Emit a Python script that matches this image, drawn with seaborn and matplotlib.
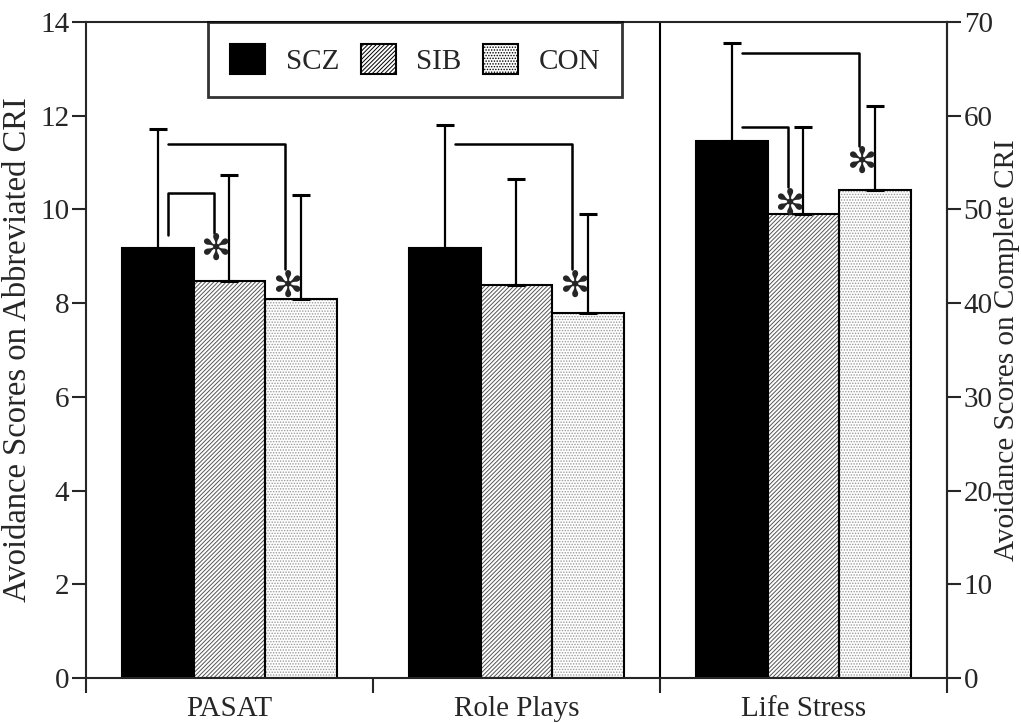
import matplotlib
matplotlib.use("Agg")
import matplotlib.pyplot as plt
from matplotlib.patches import Patch, Rectangle
import numpy as np
import pandas as pd
import seaborn as sns

measures = ["PASAT", "Role Plays", "Life Stress"]
groups = ["SCZ", "SIB", "CON"]

# group means per measure (Life Stress is scored on the complete CRI, right axis)
means_scz = [9.18, 9.18, 57.3]
means_sib = [8.47, 8.39, 49.5]
means_con = [8.09, 7.80, 52.1]
sd_scz = [2.53, 2.63, 10.5]
sd_sib = [2.26, 2.25, 9.3]
sd_con = [2.21, 2.11, 8.9]

# left axis 0-14, right axis 0-70
axis_scale = [1, 1, 5]

# significance brackets: measure, from group, to group, top, left leg end, right leg end
brackets = [
    ("PASAT", "SCZ", "SIB", 10.36, 9.45, 9.50),
    ("PASAT", "SCZ", "CON", 11.40, None, 8.73),
    ("Role Plays", "SCZ", "CON", 11.40, None, 8.73),
    ("Life Stress", "SCZ", "SIB", 58.8, None, 52.4),
    ("Life Stress", "SCZ", "CON", 66.7, None, 56.8),
]

hatches = {"SCZ": "", "SIB": "////////", "CON": "......"}
colors = {"SCZ": "black", "SIB": "white", "CON": "white"}
hatch_colors = {"SCZ": "black", "SIB": "#555555", "CON": "#999999"}

sns.set_style("ticks")
plt.rcParams["font.family"] = ["Liberation Serif", "DejaVu Serif"]
plt.rcParams["hatch.linewidth"] = 0.7
plt.rcParams["axes.linewidth"] = 1.5

rows = []
for g, m_list, s_list in zip(groups, [means_scz, means_sib, means_con], [sd_scz, sd_sib, sd_con]):
    for meas, m, s, k in zip(measures, m_list, s_list, axis_scale):
        rows.append({"Measure": meas, "Group": g, "Value": m / k, "SD": s / k})
df = pd.DataFrame(rows)

fig, ax = plt.subplots(figsize=(10.21, 7.23), dpi=100)
fig.subplots_adjust(left=0.0842, right=0.9275, top=0.9696, bottom=0.0622)

sns.barplot(
    data=df, x="Measure", y="Value", hue="Group", order=measures, hue_order=groups,
    palette=colors, edgecolor="black", linewidth=1.5, width=0.75,
    saturation=1, errorbar=None, ax=ax,
)
if ax.get_legend() is not None:
    ax.get_legend().remove()

bar_x = {}
for g, cont in zip(groups, ax.containers):
    sub = df[df["Group"] == g].set_index("Measure").loc[measures]
    xs = []
    for bar in cont:
        if hatches[g]:
            # hatch takes the edge colour, so outline the bar again in black
            bar.set_hatch(hatches[g])
            bar.set_edgecolor(hatch_colors[g])
            bar.set_linewidth(0)
            ax.add_patch(Rectangle(bar.get_xy(), bar.get_width(), bar.get_height(),
                                   fill=False, edgecolor="black", linewidth=1.5, zorder=bar.get_zorder() + 0.1))
        xs.append(bar.get_x() + bar.get_width() / 2)
    xs = np.array(xs)
    for meas, x in zip(measures, xs):
        bar_x[(meas, g)] = x
    ax.errorbar(
        xs, sub["Value"].values, yerr=[np.zeros(len(xs)), sub["SD"].values],
        fmt="none", ecolor="black", elinewidth=1.6, capsize=6.5, capthick=2.2, zorder=3,
    )

# significance brackets and asterisks
for meas, g0, g1, top, left_end, right_end in brackets:
    k = axis_scale[measures.index(meas)]
    x0 = bar_x[(meas, g0)] + 0.035
    x1 = bar_x[(meas, g1)] - 0.055
    if left_end is not None:
        xs_line, ys_line = [x0, x0, x1, x1], [left_end / k, top / k, top / k, right_end / k]
    else:
        xs_line, ys_line = [x0, x1, x1], [top / k, top / k, right_end / k]
    ax.plot(xs_line, ys_line, color="black", lw=1.8, zorder=4)
    ax.text(x1 + 0.005, right_end / k - 0.37, "\u273B", family="DejaVu Sans",
            fontsize=26, ha="center", va="center", zorder=5)

ax.axvline(1.5, color="black", lw=1.5)

ax.set_xlim(-0.5, 2.5)
ax.set_ylim(0, 14)
ax.set_yticks(range(0, 15, 2))
ax.set_xlabel("")
ax.set_ylabel("Avoidance Scores on Abbreviated CRI", fontsize=23.5, labelpad=5)
ax.set_xticks([-0.5, 0.5, 1.5, 2.5], minor=True)
ax.tick_params(axis="x", which="major", length=0, pad=13, labelsize=21)
ax.tick_params(axis="x", which="minor", length=11, width=1.5, direction="out")
ax.tick_params(axis="y", length=10, width=1.5, direction="out", labelsize=21, pad=2)
for sp in ax.spines.values():
    sp.set_linewidth(1.5)
    sp.set_visible(True)

sec = ax.secondary_yaxis("right", functions=(lambda y: y * 5, lambda y: y / 5))
sec.set_yticks(range(0, 71, 10))
sec.tick_params(length=10, width=1.5, direction="out", labelsize=21, pad=2)
sec.set_ylabel("Avoidance Scores on Complete CRI", fontsize=21, labelpad=1)
sec.spines["right"].set_linewidth(1.5)

handles = [Patch(facecolor=colors[g], edgecolor="black", hatch=hatches[g], linewidth=1.5) for g in groups]
leg = ax.legend(
    handles, groups, ncol=3, loc="upper left", bbox_to_anchor=(0.142, 1.0),
    borderaxespad=0, frameon=True, fancybox=False, edgecolor="black",
    fontsize=21, handlelength=1.2, handleheight=1.2, columnspacing=0.75,
    handletextpad=0.7, borderpad=0.75,
)
leg.get_frame().set_linewidth(2)

fig.savefig("out.png", dpi=100)
